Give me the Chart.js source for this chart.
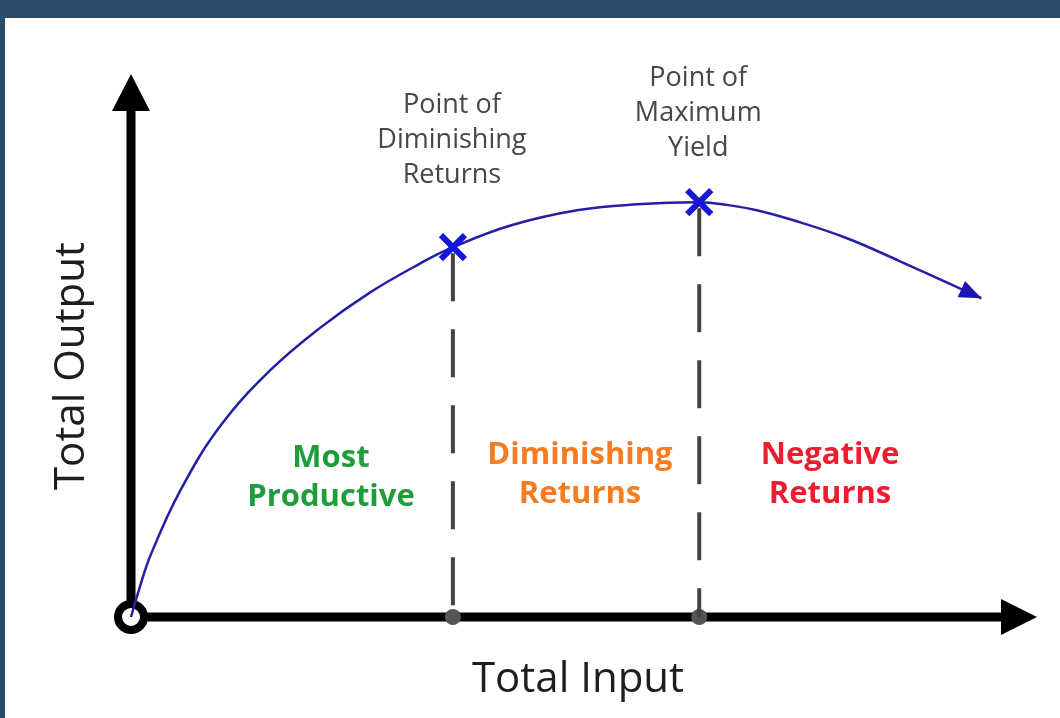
<!DOCTYPE html>
<html>
<head>
<meta charset="utf-8">
<script src="https://cdn.jsdelivr.net/npm/chart.js@4.4.1/dist/chart.umd.min.js"></script>
<style>
html, body { margin: 0; padding: 0; background: #fff; }
</style>
</head>
<body>
<canvas id="chart" width="1060" height="718"></canvas>
<script>
// total input (x) vs total output (y), both on a 0..100 scale
const curve_x = [0, 0.88, 2.19, 5.48, 9.87, 15.35, 20.83, 26.32, 31.80, 35.53, 41.89, 49.23, 55.81, 62.72, 65.79, 69.08, 73.03, 78.95, 84.76, 89.91, 93.86]
const curve_y = [0, 5.0, 11.5, 23.4, 35.2, 45.4, 53.2, 59.7, 65.0, 68.1, 72.1, 74.9, 76.0, 76.4, 75.9, 74.9, 73.1, 69.8, 65.6, 61.7, 58.7]

const marker_x = [35.53, 62.72]
const marker_y = [68.1, 76.4]
const marker_labels = [["Point of", "Diminishing", "Returns"], ["Point of", "Maximum", "Yield"]]

const zone_labels = [["Most", "Productive"], ["Diminishing", "Returns"], ["Negative", "Returns"]]
const zone_colors = ["#1e9e3a", "#f57c20", "#ee1c2e"]

const curve_color = "#2420a4"
const marker_color = "#1616d6"
const dash_color = "#444444"

function toPoints(xs, ys) {
    return xs.map((x, i) => ({ x: x, y: ys[i] }))
}

const markerDataset = {
    label: "markers",
    data: toPoints(marker_x, marker_y),
    showLine: false,
    pointStyle: "crossRot",
    pointRadius: 17,
    pointBorderWidth: 6,
    pointBorderColor: marker_color,
    pointBackgroundColor: marker_color,
    clip: false
}

const curveDataset = {
    label: "curve",
    data: toPoints(curve_x, curve_y),
    borderColor: curve_color,
    borderWidth: 2.5,
    pointRadius: 0,
    tension: 0.4,
    fill: false,
    clip: false
}

const dashDatasets = marker_x.map((x, i) => ({
    label: "dash" + i,
    data: [{ x: x, y: marker_y[i] }, { x: x, y: 0 }],
    borderColor: dash_color,
    borderWidth: 4,
    borderDash: [48, 28],
    borderDashOffset: -6,
    pointRadius: 0,
    clip: false
}))

const dotDataset = {
    label: "dots",
    data: marker_x.map(x => ({ x: x, y: 0 })),
    showLine: false,
    pointRadius: 8,
    pointBackgroundColor: "#555555",
    pointBorderWidth: 0,
    clip: false
}

const diagramPlugin = {
    id: "diagram",
    beforeDraw(chart) {
        const ctx = chart.ctx
        ctx.save()
        ctx.fillStyle = "#ffffff"
        ctx.fillRect(0, 0, chart.width, chart.height)
        ctx.fillStyle = "#2a4c6b"
        ctx.fillRect(0, 0, chart.width, 18)
        ctx.fillRect(0, 0, 5, chart.height)
        ctx.restore()
    },
    beforeDatasetsDraw(chart) {
        const ctx = chart.ctx
        const sx = chart.scales.x, sy = chart.scales.y
        const ox = sx.getPixelForValue(0), oy = sy.getPixelForValue(0)
        const tipX = sx.getPixelForValue(100), tipY = sy.getPixelForValue(100)
        ctx.save()
        ctx.strokeStyle = "#000"
        ctx.fillStyle = "#000"
        ctx.lineWidth = 9
        ctx.beginPath()
        ctx.moveTo(ox, oy)
        ctx.lineTo(ox, tipY + 34)
        ctx.moveTo(ox, oy)
        ctx.lineTo(tipX - 34, oy)
        ctx.stroke()
        // arrow heads
        ctx.beginPath()
        ctx.moveTo(ox, tipY)
        ctx.lineTo(ox - 19, tipY + 37)
        ctx.lineTo(ox + 19, tipY + 37)
        ctx.closePath()
        ctx.fill()
        ctx.beginPath()
        ctx.moveTo(tipX, oy)
        ctx.lineTo(tipX - 36, oy - 18)
        ctx.lineTo(tipX - 36, oy + 18)
        ctx.closePath()
        ctx.fill()
        // origin ring
        ctx.beginPath()
        ctx.arc(ox, oy, 13, 0, Math.PI * 2)
        ctx.fillStyle = "#fff"
        ctx.fill()
        ctx.lineWidth = 8
        ctx.stroke()
        ctx.restore()
    },
    afterDraw(chart) {
        const ctx = chart.ctx
        const sx = chart.scales.x, sy = chart.scales.y
        ctx.save()
        ctx.textAlign = "center"
        ctx.textBaseline = "middle"

        // curve arrow head
        const n = curve_x.length
        const ex = sx.getPixelForValue(curve_x[n - 1]), ey = sy.getPixelForValue(curve_y[n - 1])
        const px = sx.getPixelForValue(curve_x[n - 2]), py = sy.getPixelForValue(curve_y[n - 2])
        const ang = Math.atan2(ey - py, ex - px)
        ctx.translate(ex, ey)
        ctx.rotate(ang)
        ctx.beginPath()
        ctx.moveTo(0, 0)
        ctx.lineTo(-22, -9)
        ctx.lineTo(-22, 9)
        ctx.closePath()
        ctx.fillStyle = "#1c14b0"
        ctx.fill()
        ctx.setTransform(1, 0, 0, 1, 0, 0)

        // axis titles
        ctx.fillStyle = "#1e1e1e"
        ctx.font = '42px "Open Sans"'
        ctx.fillText("Total Input", 578, 680)
        ctx.save()
        ctx.translate(72, 366)
        ctx.rotate(-Math.PI / 2)
        ctx.fillText("Total Output", 0, 0)
        ctx.restore()

        // point labels
        const label_top = [105, 78]
        ctx.fillStyle = "#474747"
        ctx.font = '27px "Open Sans"'
        marker_labels.forEach((lines, i) => {
            const cx = sx.getPixelForValue(marker_x[i])
            lines.forEach((t, j) => ctx.fillText(t, cx - 1, label_top[i] + j * 35))
        })

        // zone labels
        const zone_cx = [331, 580, 830]
        ctx.font = 'bold 31px "Open Sans"'
        zone_labels.forEach((lines, i) => {
            ctx.fillStyle = zone_colors[i]
            const y0 = i === 0 ? 458 : 455
            lines.forEach((t, j) => ctx.fillText(t, zone_cx[i], y0 + j * 39))
        })
        ctx.restore()
    }
}

new Chart(document.getElementById("chart").getContext("2d"), {
    type: "line",
    data: {
        datasets: [markerDataset, curveDataset, ...dashDatasets, dotDataset]
    },
    options: {
        responsive: false,
        animation: false,
        devicePixelRatio: 1,
        layout: { padding: { left: 131, right: 17, top: 74, bottom: 101 } },
        plugins: { legend: { display: false }, tooltip: { enabled: false }, title: { display: false } },
        scales: {
            x: { type: "linear", min: 0, max: 100, display: false },
            y: { type: "linear", min: 0, max: 100, display: false }
        }
    },
    plugins: [diagramPlugin]
})
</script>
</body>
</html>
